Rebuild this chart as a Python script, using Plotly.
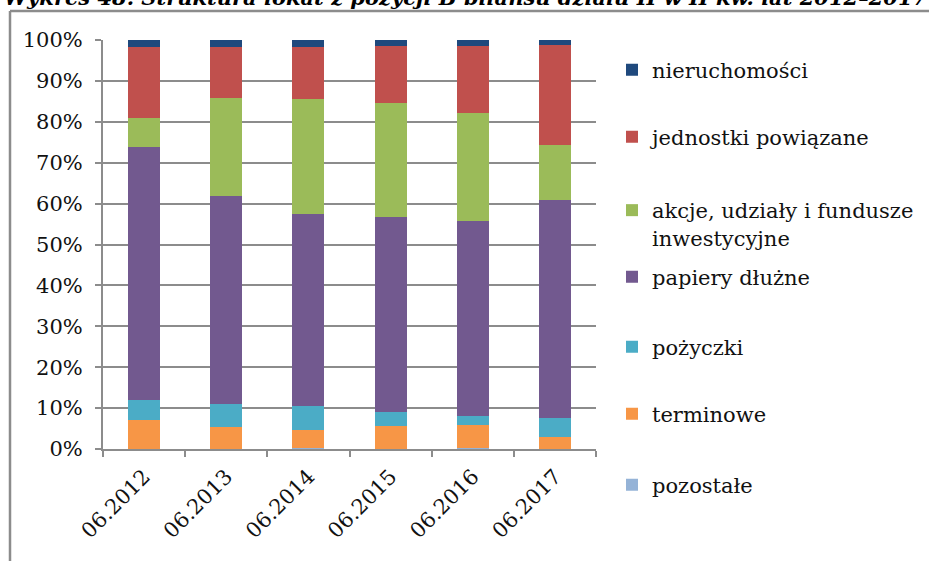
import plotly.graph_objects as go

# Quarter labels on the category axis
periods = ["06.2012", "06.2013", "06.2014", "06.2015", "06.2016", "06.2017"]

# Share of each investment type (%), bottom of the stack first
pozostale = [0.1, 0.0, 0.3, 0.1, 0.3, 0.0]
terminowe = [7.0, 5.3, 4.3, 5.5, 5.6, 3.0]
pozyczki = [5.0, 5.6, 6.0, 3.4, 2.2, 4.5]
papiery_dluzne = [61.7, 51.0, 46.8, 47.8, 47.7, 53.4]
akcje_udzialy = [7.1, 24.0, 28.2, 27.9, 26.4, 13.4]
jednostki_powiazane = [17.3, 12.3, 12.6, 13.8, 16.3, 24.6]
nieruchomosci = [1.8, 1.8, 1.8, 1.5, 1.5, 1.1]

series_names = [
    "pozostałe",
    "terminowe",
    "pożyczki",
    "papiery dłużne",
    "akcje, udziały i fundusze<br>inwestycyjne",
    "jednostki powiązane",
    "nieruchomości",
]
series_values = [
    pozostale, terminowe, pozyczki, papiery_dluzne,
    akcje_udzialy, jednostki_powiazane, nieruchomosci,
]
series_colors = [
    "#95B3D7", "#F79646", "#4BACC6", "#72598F",
    "#9BBB59", "#C0504D", "#1F497D",
]

W, H = 929, 561
L, R, T, B = 103, 596, 40, 449  # plot area in pixels


def px_x(px):
    return (px - L) / (R - L)


def px_y(py):
    return (B - py) / (B - T)


# vertical centre of each legend entry, bottom series first
legend_centres = [485, 414, 347, 277, 224, 137, 70]

SERIF = "DejaVu Serif"

fig = go.Figure()
layout_legends = {}
for i, (name, vals, col) in enumerate(zip(series_names, series_values, series_colors)):
    key = "legend" if i == 0 else f"legend{i + 1}"
    fig.add_trace(go.Bar(
        x=periods, y=vals, name=name,
        marker=dict(color=col, line=dict(width=0)),
        legend=key,
    ))
    layout_legends[key] = dict(
        x=px_x(612), y=px_y(legend_centres[i]),
        xanchor="left", yanchor="middle", valign="top",
        bgcolor="rgba(0,0,0,0)",
        font=dict(family=SERIF, size=21, color="#111111"),
    )

fig.update_layout(
    width=W, height=H,
    margin=dict(l=L, r=W - R, t=T, b=H - B, pad=0, autoexpand=False),
    barmode="stack",
    bargap=0.61,
    plot_bgcolor="white",
    paper_bgcolor="white",
    font=dict(family=SERIF, color="#111111"),
    showlegend=True,
    **layout_legends,
)

fig.update_yaxes(
    range=[0, 100], dtick=10, ticksuffix="%",
    showgrid=True, gridcolor="#8c8c8c", gridwidth=2,
    showline=True, linecolor="#8c8c8c", linewidth=2,
    ticks="outside", ticklen=6, tickcolor="#8c8c8c", tickwidth=2,
    ticklabelstandoff=8,
    tickfont=dict(family=SERIF, size=21, color="#111111"),
    zeroline=False, automargin=False,
)
fig.update_xaxes(
    type="category", tickson="boundaries",
    showline=True, linecolor="#8c8c8c", linewidth=2,
    ticks="outside", ticklen=6, tickcolor="#8c8c8c", tickwidth=2,
    tickangle=-45, ticklabelstandoff=5,
    tickfont=dict(family=SERIF, size=21, color="#111111"),
    showgrid=False, automargin=False,
)

# outer frame: top and left edges of the chart border
frame = dict(color="#8c8c8c", width=2.5)
fig.add_shape(type="line", xref="paper", yref="paper",
              x0=px_x(10), x1=px_x(940), y0=px_y(11), y1=px_y(11), line=frame)
fig.add_shape(type="line", xref="paper", yref="paper",
              x0=px_x(10), x1=px_x(10), y0=px_y(11), y1=px_y(570), line=frame)

# chart caption above the frame
fig.add_annotation(
    xref="paper", yref="paper", x=px_x(2), y=px_y(12),
    xanchor="left", yanchor="bottom", showarrow=False,
    text="<b><i>Wykres 48. Struktura lokat z pozycji B bilansu działu II w II kw. lat 2012–2017</i></b>",
    font=dict(family=SERIF, size=21, color="#000000"),
)

fig.write_html("out.html")
